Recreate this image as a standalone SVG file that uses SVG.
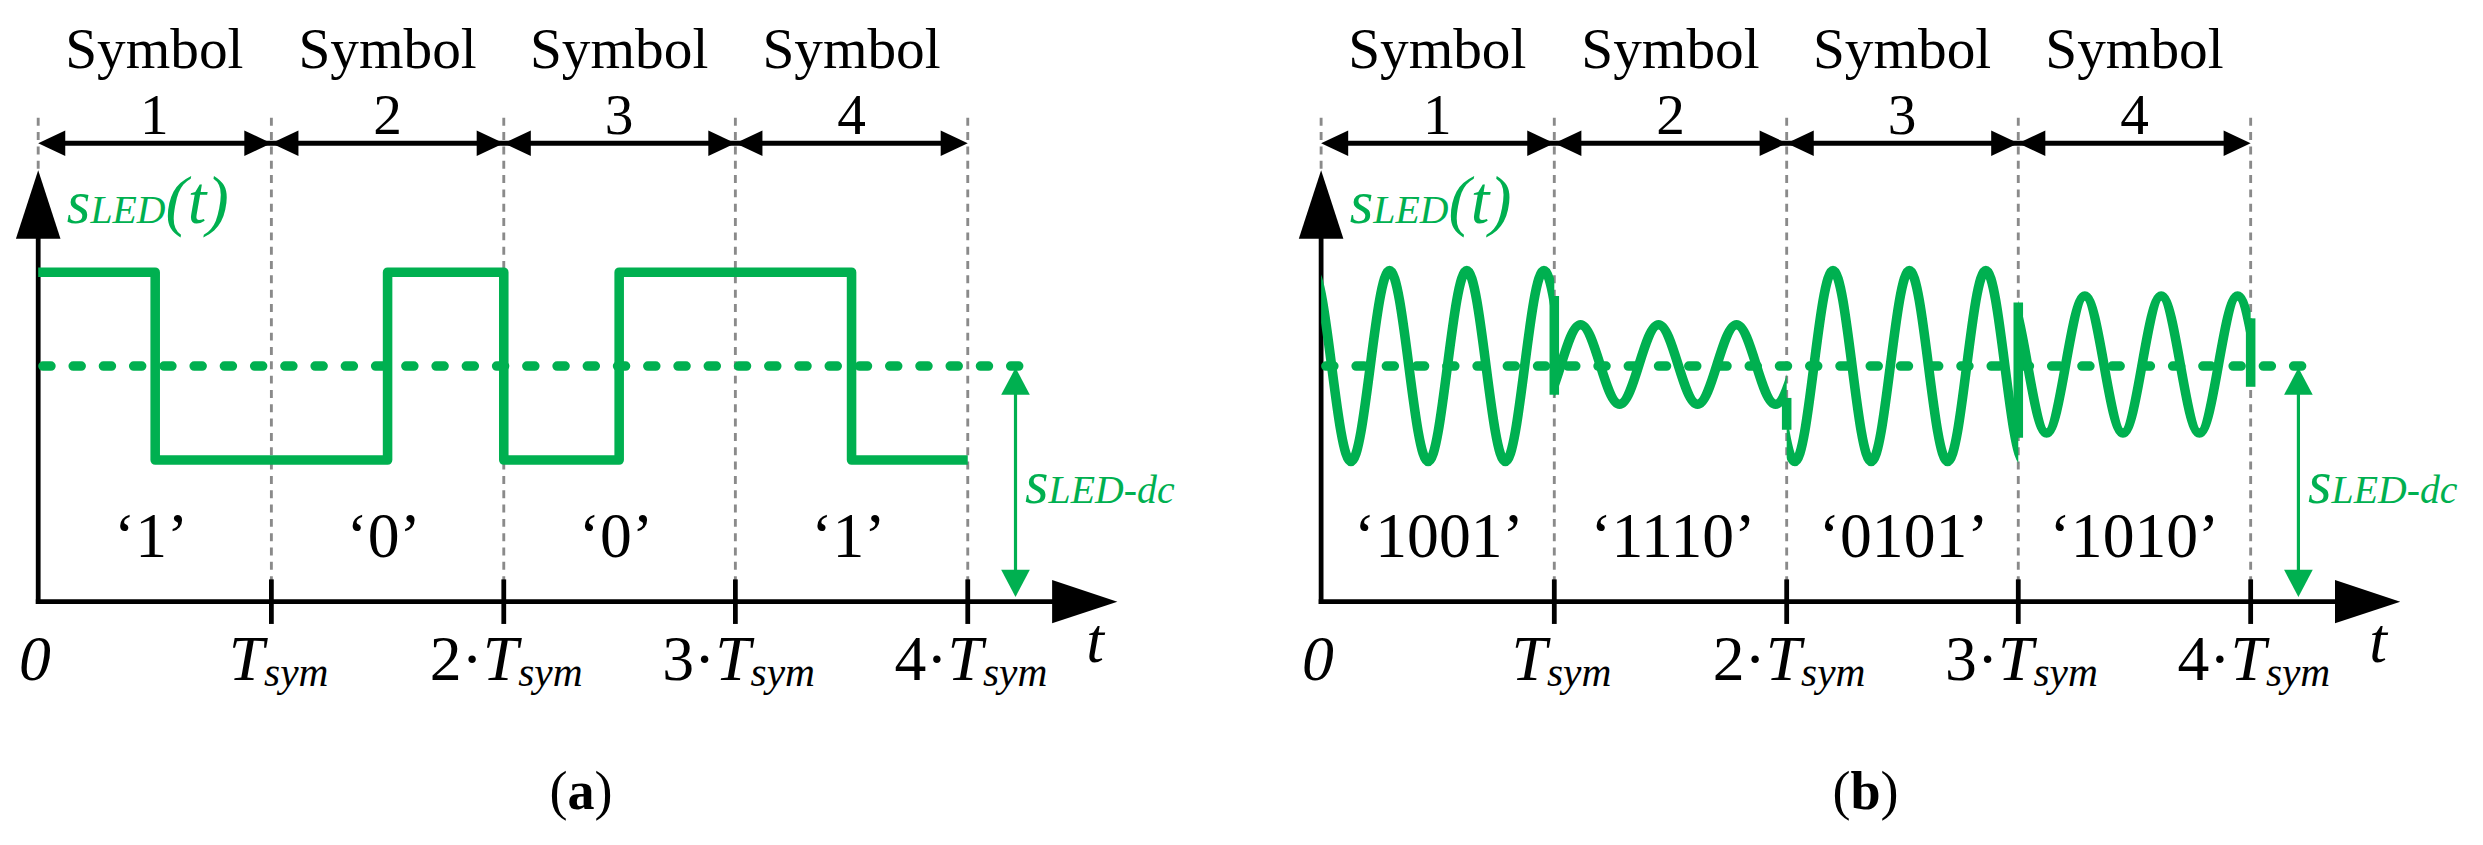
<svg xmlns="http://www.w3.org/2000/svg" xmlns:xlink="http://www.w3.org/1999/xlink" width="2483" height="845" viewBox="0 0 2483 845">
<style>
.ax{stroke:#000;stroke-width:3;fill:none}
.tk{stroke:#000;stroke-width:3}
.gd{stroke:#8a8a8a;stroke-width:1.8;stroke-dasharray:5 4;fill:none}
.dc{stroke:#00b050;stroke-width:6;stroke-dasharray:5 14;stroke-linecap:round;fill:none}
.wv{stroke:#00b050;stroke-width:6;fill:none;stroke-linejoin:round}
.ga{stroke:#00b050;stroke-width:2}
.gf{fill:#00b050}
.bf{fill:#000}
.t{font-family:"Liberation Serif",serif;fill:#000}
.it{font-family:"Liberation Serif",serif;font-style:italic;fill:#000}
.gt{font-family:"Liberation Serif",serif;font-style:italic;fill:#00b050}
</style>
<defs>
<clipPath id="c1"><rect x="830" y="0" width="146.5" height="531"/></clipPath>
<clipPath id="c2"><rect x="976.5" y="0" width="146" height="531"/></clipPath>
<clipPath id="c3"><rect x="1122.5" y="0" width="145.5" height="531"/></clipPath>
<clipPath id="c4"><rect x="1268" y="0" width="146" height="531"/></clipPath>
<g id="frame">
<g id="grid">
<line class="gd" x1="24" y1="74" x2="24" y2="108"/>
<line class="gd" x1="170.5" y1="74" x2="170.5" y2="378"/>
<line class="gd" x1="316.5" y1="74" x2="316.5" y2="378"/>
<line class="gd" x1="462" y1="74" x2="462" y2="378"/>
<line class="gd" x1="608" y1="74" x2="608" y2="378"/>
</g>
<g id="symarrows">
<line class="ax" x1="30" y1="90" x2="602" y2="90" stroke-width="2.5"/>
<polygon class="bf" points="24,90 41,82 41,98"/>
<polygon class="bf" points="170.5,90 153.5,82 153.5,98"/>
<polygon class="bf" points="170.5,90 187.5,82 187.5,98"/>
<polygon class="bf" points="316.5,90 299.5,82 299.5,98"/>
<polygon class="bf" points="316.5,90 333.5,82 333.5,98"/>
<polygon class="bf" points="462,90 445,82 445,98"/>
<polygon class="bf" points="462,90 479,82 479,98"/>
<polygon class="bf" points="608,90 591,82 591,98"/>
</g>
<g id="symlabels" class="t" font-size="36" text-anchor="middle">
<text x="97" y="43">Symbol</text><text x="97" y="84">1</text>
<text x="243.5" y="43">Symbol</text><text x="243.5" y="84">2</text>
<text x="389" y="43">Symbol</text><text x="389" y="84">3</text>
<text x="535" y="43">Symbol</text><text x="535" y="84">4</text>
</g>
<g id="axes">
<line class="ax" x1="24" y1="379.5" x2="24" y2="148"/>
<polygon class="bf" points="24,107 10,150 38,150"/>
<line class="ax" x1="22.5" y1="378" x2="663" y2="378"/>
<polygon class="bf" points="661,364.4 702,378 661,391.6"/>
<line class="tk" x1="170.5" y1="364" x2="170.5" y2="392"/>
<line class="tk" x1="316.5" y1="364" x2="316.5" y2="392"/>
<line class="tk" x1="462" y1="364" x2="462" y2="392"/>
<line class="tk" x1="608" y1="364" x2="608" y2="392"/>
</g>
<g id="timelabels" class="it" font-size="40" text-anchor="middle">
<text x="22" y="427">0</text>
<text x="175" y="427">T<tspan font-size="26" dy="4">sym</tspan></text>
<text x="318" y="427"><tspan font-style="normal">2·</tspan>T<tspan font-size="26" dy="4">sym</tspan></text>
<text x="464" y="427"><tspan font-style="normal">3·</tspan>T<tspan font-size="26" dy="4">sym</tspan></text>
<text x="610" y="427"><tspan font-style="normal">4·</tspan>T<tspan font-size="26" dy="4">sym</tspan></text>
<text x="688" y="416" font-size="40">t</text>
</g>
<line class="dc" x1="27" y1="230" x2="652" y2="230"/>
<g id="dcarrow">
<line class="ga" x1="638" y1="246" x2="638" y2="360"/>
<polygon class="gf" points="638,231 629,248 647,248"/>
<polygon class="gf" points="638,375 629,358 647,358"/>
<text class="gt" x="644" y="316" font-size="38">s<tspan font-size="25">LED-dc</tspan></text>
</g>
<text class="gt" x="42" y="140" font-size="38">s<tspan font-size="25">LED</tspan><tspan font-size="42">(t)</tspan></text>
</g>
</defs>
<rect width="2483" height="845" fill="#fff"/>
<g transform="scale(1.5917)">
<g id="panel-a">
<use xlink:href="#frame"/>
<g id="square-wave">
<polyline class="wv" points="24,171 97.5,171 97.5,289 243.5,289 243.5,171 316.5,171 316.5,289 389,289 389,171 535,171 535,289 608,289"/>
</g>
<g id="bits-a" class="t" font-size="40" text-anchor="middle">
<text x="95" y="350">‘1’</text>
<text x="241" y="350">‘0’</text>
<text x="387" y="350">‘0’</text>
<text x="533" y="350">‘1’</text>
</g>
<text class="t" x="365" y="508" font-size="34" text-anchor="middle">(<tspan font-weight="bold">a</tspan>)</text>
</g>
<g id="panel-b">
<use xlink:href="#frame" x="806"/>
<g id="ofdm-wave">
<path class="wv" clip-path="url(#c1)" d="M824.5,170 c8.83,0 15.42,120 24.25,120 s15.42,-120 24.25,-120 s15.42,120 24.25,120 s15.42,-120 24.25,-120 s15.42,120 24.25,120 s15.42,-120 24.25,-120 s15.42,120 24.25,120 s15.42,-120 24.25,-120"/>
<path class="wv" clip-path="url(#c2)" d="M944,204 c8.92,0 15.58,50 24.5,50 s15.58,-50 24.5,-50 s15.58,50 24.5,50 s15.58,-50 24.5,-50 s15.58,50 24.5,50 s15.58,-50 24.5,-50 s15.58,50 24.5,50 s15.58,-50 24.5,-50"/>
<path class="wv" clip-path="url(#c3)" d="M1103.6,170 c8.74,0 15.26,120 24,120 s15.26,-120 24,-120 s15.26,120 24,120 s15.26,-120 24,-120 s15.26,120 24,120 s15.26,-120 24,-120 s15.26,120 24,120 s15.26,-120 24,-120"/>
<path class="wv" clip-path="url(#c4)" d="M1261.8,186 c8.74,0 15.26,86 24,86 s15.26,-86 24,-86 s15.26,86 24,86 s15.26,-86 24,-86 s15.26,86 24,86 s15.26,-86 24,-86 s15.26,86 24,86 s15.26,-86 24,-86"/>
<polyline class="wv" points="976.5,186 976.5,248"/>
<polyline class="wv" points="1122.5,250 1122.5,270"/>
<polyline class="wv" points="1268,275 1268,190"/>
<polyline class="wv" points="1414,200 1414,243"/>
</g>
<g id="bits-b" class="t" font-size="40" text-anchor="middle">
<text x="904" y="350">‘1001’</text>
<text x="1051" y="350">‘1110’</text>
<text x="1196" y="350">‘0101’</text>
<text x="1341" y="350">‘1010’</text>
</g>
<text class="t" x="1172" y="508" font-size="34" text-anchor="middle">(<tspan font-weight="bold">b</tspan>)</text>
</g>
</g>
</svg>
